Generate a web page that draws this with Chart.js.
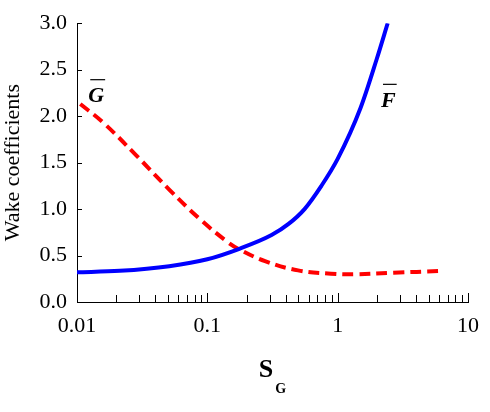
<!DOCTYPE html>
<html>
<head>
<meta charset="utf-8">
<script src="https://cdn.jsdelivr.net/npm/chart.js@4.4.1/dist/chart.umd.min.js"></script>
<style>
  html, body { margin: 0; padding: 0; background: #fff; }
  #wrap { width: 490px; height: 412px; }
</style>
</head>
<body>
<div id="wrap"><canvas id="wake" width="490" height="412"></canvas></div>
<script>
// ---- data ----
const sgF = [0.01, 0.0213, 0.051, 0.1, 0.174, 0.311, 0.42, 0.557, 0.75, 1.0, 1.5, 2.0, 2.42];
const fBar = [0.32, 0.335, 0.385, 0.46, 0.57, 0.72, 0.84, 1.0, 1.25, 1.54, 2.09, 2.62, 3.0];

const sgG = [0.0106, 0.0159, 0.0286, 0.051, 0.088, 0.1416, 0.174, 0.277, 0.497, 0.888, 1.34, 2.69, 6.08];
const gBar = [2.13, 1.93, 1.575, 1.21, 0.89, 0.65, 0.57, 0.44, 0.34, 0.305, 0.298, 0.315, 0.333];

const xMajorTicks = [0.01, 0.1, 1, 10];
const yTicks = [0, 0.5, 1.0, 1.5, 2.0, 2.5, 3.0];

const SERIF = "'Liberation Serif', serif";

function pairs(xs, ys) {
    return xs.map((x, i) => ({ x: x, y: ys[i] }));
}

// minor ticks 2..9 inside every decade
function buildLogTicks() {
    const out = [];
    for (let d = 0; d < xMajorTicks.length - 1; d++) {
        for (let m = 1; m < 10; m++) out.push(xMajorTicks[d] * m);
    }
    out.push(xMajorTicks[xMajorTicks.length - 1]);
    return out;
}

// inward tick marks, axis title with subscript, curve labels with overbars
const decorPlugin = {
    id: 'decor',
    afterDraw(chart) {
        const ctx = chart.ctx;
        const xs = chart.scales.x;
        const ys = chart.scales.y;
        const area = chart.chartArea;
        ctx.save();
        ctx.strokeStyle = '#000';
        ctx.lineWidth = 1;

        // x ticks pointing up into the plot
        buildLogTicks().forEach(v => {
            const px = Math.round(xs.getPixelForValue(v)) + 0.5;
            const major = xMajorTicks.some(t => Math.abs(t - v) < 1e-9);
            const len = major ? 9 : 7;
            ctx.beginPath();
            ctx.moveTo(px, area.bottom);
            ctx.lineTo(px, area.bottom - len);
            ctx.stroke();
        });

        // y ticks pointing right
        yTicks.forEach(v => {
            const py = Math.round(ys.getPixelForValue(v)) + 0.5;
            ctx.beginPath();
            ctx.moveTo(area.left, py);
            ctx.lineTo(area.left + 5, py);
            ctx.stroke();
        });

        // x axis title: S with subscript G
        ctx.fillStyle = '#000';
        ctx.textBaseline = 'alphabetic';
        ctx.textAlign = 'left';
        const cx = (area.left + area.right) / 2;
        ctx.font = 'bold 26px ' + SERIF;
        const sW = ctx.measureText('S').width;
        ctx.font = 'bold 14px ' + SERIF;
        const gW = ctx.measureText('G').width;
        const startX = cx - (sW + gW + 2) / 2;
        ctx.font = 'bold 26px ' + SERIF;
        ctx.fillText('S', startX, 377);
        ctx.font = 'bold 14px ' + SERIF;
        ctx.fillText('G', startX + sW + 2, 393);

        // curve labels with overbar
        const labels = [
            { text: 'G', x: 0.0122, y: 2.15 },
            { text: 'F', x: 2.15, y: 2.10 }
        ];
        ctx.font = 'italic bold 22px ' + SERIF;
        labels.forEach(l => {
            const lx = xs.getPixelForValue(l.x);
            const ly = ys.getPixelForValue(l.y);
            const w = ctx.measureText(l.text).width;
            ctx.fillText(l.text, lx, ly);
            ctx.beginPath();
            ctx.lineWidth = 1.2;
            ctx.moveTo(lx + 2, ly - 22.5);
            ctx.lineTo(lx + w + 1, ly - 22.5);
            ctx.stroke();
        });
        ctx.restore();
    }
};

new Chart(document.getElementById('wake'), {
    type: 'line',
    data: {
        datasets: [
            {
                label: 'F',
                data: pairs(sgF, fBar),
                borderColor: '#0000ff',
                borderWidth: 4,
                pointRadius: 0,
                cubicInterpolationMode: 'monotone',
                fill: false
            },
            {
                label: 'G',
                data: pairs(sgG, gBar),
                borderColor: '#ff0000',
                borderWidth: 4,
                borderDash: [11, 6],
                pointRadius: 0,
                tension: 0.4,
                fill: false
            }
        ]
    },
    options: {
        responsive: false,
        animation: false,
        layout: { padding: { top: 16, right: 18, left: 0, bottom: 0 } },
        plugins: {
            legend: { display: false },
            tooltip: { enabled: false }
        },
        scales: {
            x: {
                type: 'logarithmic',
                min: 0.01,
                max: 10,
                afterBuildTicks: scale => {
                    scale.ticks = xMajorTicks.map(v => ({ value: v }));
                },
                afterFit: scale => { scale.height = 110; },
                grid: { drawOnChartArea: false, drawTicks: false },
                border: { display: true, color: '#000', width: 1 },
                ticks: {
                    autoSkip: false,
                    maxRotation: 0,
                    padding: 11,
                    color: '#000',
                    font: { family: SERIF, size: 22 },
                    callback: v => String(v)
                }
            },
            y: {
                min: 0,
                max: 3,
                afterBuildTicks: scale => {
                    scale.ticks = yTicks.map(v => ({ value: v }));
                },
                afterFit: scale => { scale.width = 77; },
                grid: { drawOnChartArea: false, drawTicks: false },
                border: { display: true, color: '#000', width: 1 },
                ticks: {
                    padding: 10,
                    color: '#000',
                    font: { family: SERIF, size: 22 },
                    callback: v => Number(v).toFixed(1)
                },
                title: {
                    display: true,
                    text: 'Wake coefficients',
                    color: '#000',
                    font: { family: SERIF, size: 22 },
                    padding: { top: 0, bottom: 0 }
                }
            }
        }
    },
    plugins: [decorPlugin]
});
</script>
</body>
</html>
